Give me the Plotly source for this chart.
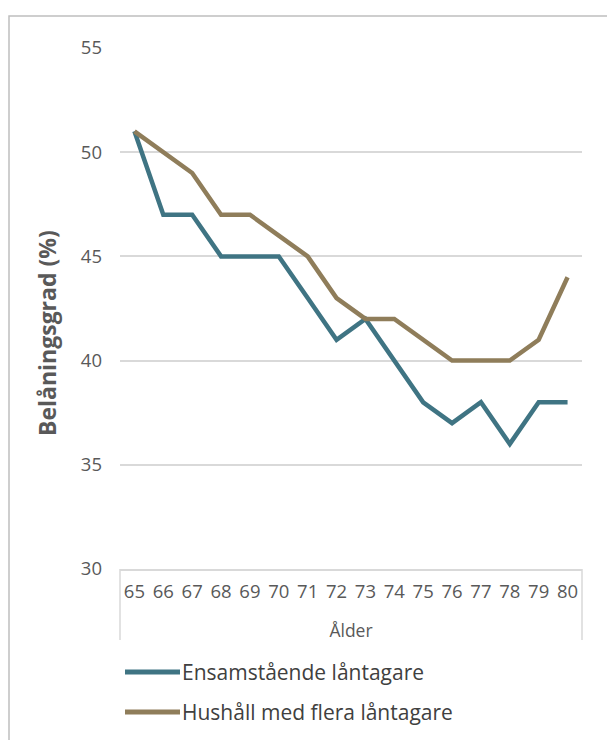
import plotly.graph_objects as go

ages = [str(a) for a in range(65, 81)]
ensam = [51, 47, 47, 45, 45, 45, 43, 41, 42, 40, 38, 37, 38, 36, 38, 38]
flera = [51, 50, 49, 47, 47, 46, 45, 43, 42, 42, 41, 40, 40, 40, 41, 44]
names = ["Ensamstående låntagare", "Hushåll med flera låntagare"]
colors = ["#3F7483", "#8F7D5A"]
y_title = "Belåningsgrad (%)"
x_title = "Ålder"

FONT = "Open Sans, sans-serif"
W, H = 607, 740
L, R, T, B = 120, 25, 48, 171
pw, ph = W - L - R, H - T - B

def px(x):
    return (x - L) / pw

def py(y):
    return (H - B - y) / ph

fig = go.Figure()
for vals, nm, c in zip([ensam, flera], names, colors):
    fig.add_trace(go.Scatter(x=ages, y=vals, mode="lines", name=nm,
                             line=dict(color=c, width=4.5), showlegend=False))

shapes = []
# outer border
shapes.append(dict(type="rect", xref="paper", yref="paper",
                   x0=px(9), x1=px(640), y0=py(800), y1=py(16),
                   line=dict(color="#BFBFBF", width=1.5), layer="below"))
# category axis box verticals
for xx in [120, 582]:
    shapes.append(dict(type="line", xref="paper", yref="paper",
                       x0=px(xx), x1=px(xx), y0=py(569), y1=py(640),
                       line=dict(color="#D9D9D9", width=1.5)))
annotations = []
for i, (nm, c) in enumerate(zip(names, colors)):
    yy = 672 + 40 * i
    shapes.append(dict(type="line", xref="paper", yref="paper",
                       x0=px(125), x1=px(180), y0=py(yy), y1=py(yy),
                       line=dict(color=c, width=5)))
    annotations.append(dict(xref="paper", yref="paper", x=px(180), y=py(yy),
                            text=nm, showarrow=False, xanchor="left", yanchor="middle",
                            font=dict(family=FONT, size=21, color="#404040")))
annotations.append(dict(xref="paper", yref="paper", x=px(47), y=py(333),
                        text="<b>" + y_title + "</b>", textangle=-90, showarrow=False,
                        xanchor="center", yanchor="middle",
                        font=dict(family=FONT, size=23, color="#595959")))

fig.update_layout(
    width=W, height=H,
    margin=dict(l=L, r=R, t=T, b=B),
    paper_bgcolor="white", plot_bgcolor="white",
    font=dict(family=FONT, color="#595959"),
    shapes=shapes, annotations=annotations,
    xaxis=dict(type="category", showgrid=False, showline=True, linecolor="#D9D9D9",
               linewidth=1.5, tickfont=dict(size=18.5, color="#595959"),
               ticks="", ticklabelstandoff=5, range=[-0.5, 15.5],
               title=dict(text=x_title, font=dict(size=17.5, color="#595959"), standoff=23)),
    yaxis=dict(range=[30, 55], dtick=5, showgrid=True, gridcolor="#D9D9D9", gridwidth=1.5,
               zeroline=False, showline=False, ticks="", ticklabelstandoff=17,
               tickfont=dict(size=18.5, color="#595959")),
)
fig.write_html("out.html")
